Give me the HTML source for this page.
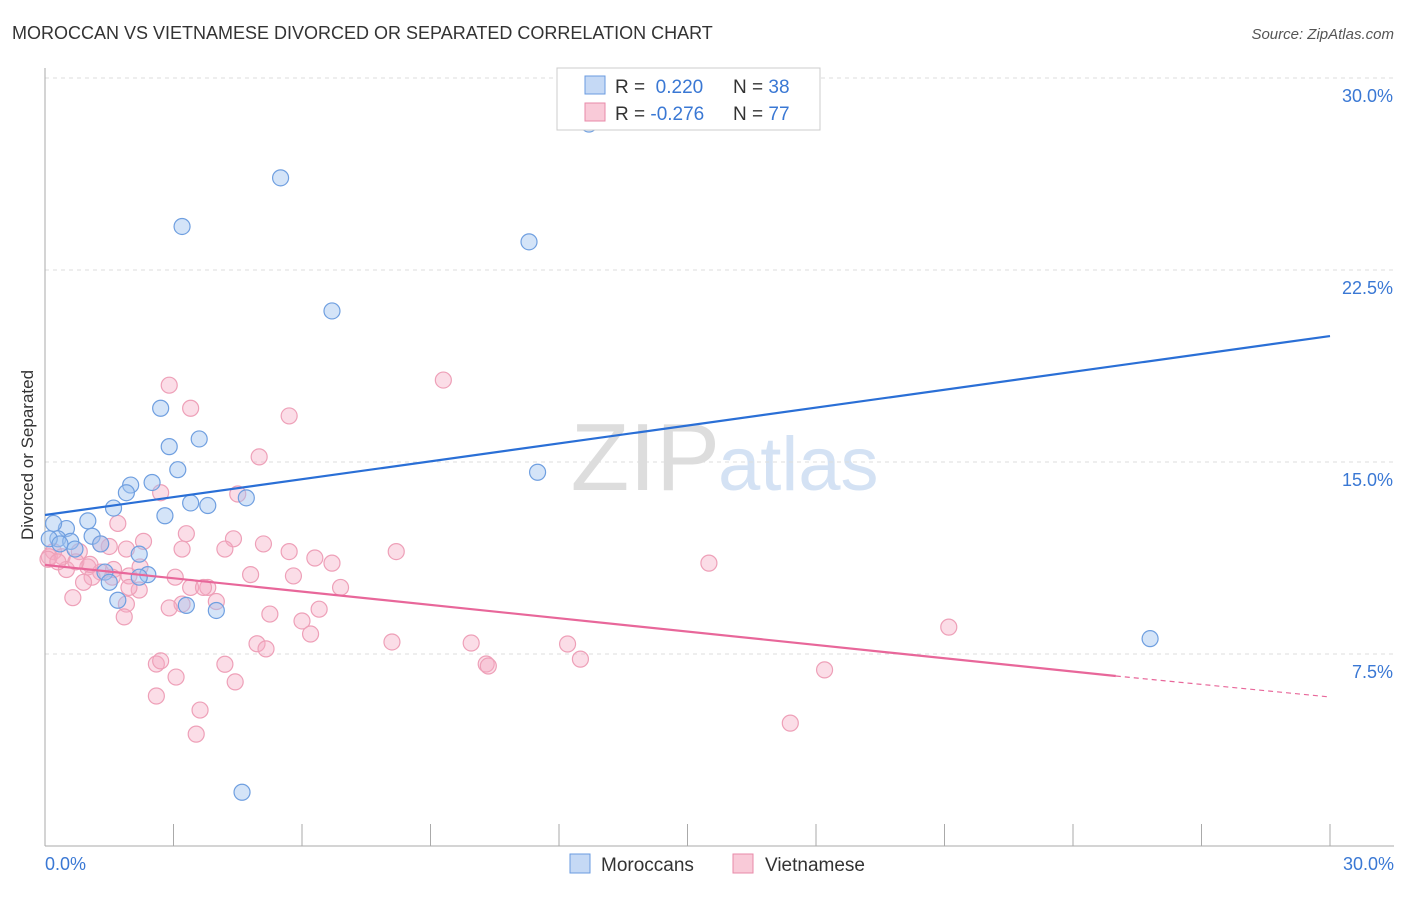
<!DOCTYPE html>
<html><head><meta charset="utf-8">
<style>
body{margin:0;background:#fff;font-family:"Liberation Sans",sans-serif;}
svg text{font-family:"Liberation Sans",sans-serif;}
</style></head>
<body>
<svg id="chart" width="1406" height="892">
<text x="12" y="39" font-size="18" fill="#333">MOROCCAN VS VIETNAMESE DIVORCED OR SEPARATED CORRELATION CHART</text>
<text x="1394" y="39" font-size="15" fill="#555" text-anchor="end" font-style="italic">Source: ZipAtlas.com</text>
<text x="720" y="490" font-size="96" fill="#ddd" text-anchor="end" font-family="Liberation Serif">ZIP</text>
<text x="718" y="490" font-size="76" fill="#d4e2f4">atlas</text>
<g id="grid"></g>
<g id="axes"></g>
<g id="pts"></g>
<g id="lines"></g>
<text x="33" y="455" font-size="17" fill="#333" transform="rotate(-90 33 455)" text-anchor="middle">Divorced or Separated</text>
<g>
<rect x="557" y="68" width="263" height="62" fill="#fff" stroke="#ccc"/>
<rect x="585" y="76" width="20" height="18" fill="#c5d9f5" stroke="#6a9be0"/>
<rect x="585" y="103" width="20" height="18" fill="#f9cad8" stroke="#e88aa8"/>
<text x="615" y="93" font-size="19" fill="#333">R = <tspan fill="#3a78d4">&#160;0.220</tspan><tspan x="733">N = </tspan><tspan fill="#3a78d4">38</tspan></text>
<text x="615" y="120" font-size="19" fill="#333">R = <tspan fill="#3a78d4">-0.276</tspan><tspan x="733">N = </tspan><tspan fill="#3a78d4">77</tspan></text>
</g>
<g>
<rect x="570" y="854" width="20" height="19" fill="#c5d9f5" stroke="#6a9be0"/>
<text x="601" y="871" font-size="19" fill="#333">Moroccans</text>
<rect x="733" y="854" width="20" height="19" fill="#f9cad8" stroke="#e88aa8"/>
<text x="765" y="871" font-size="19" fill="#333">Vietnamese</text>
</g>
</svg>
<script>
const yTicks=[7.5,15,22.5,30];
const yTickLabels=["7.5%","15.0%","22.5%","30.0%"];
const moroccanX=[12.7,5.5,3.2,11.3,6.7,2.7,2.9,3.6,3.1,2.5,2.0,1.9,4.7,3.4,3.8,1.6,2.8,1.0,0.5,0.2,0.3,0.6,1.1,1.3,0.7,2.2,2.4,1.4,2.2,1.5,1.7,3.3,4.0,11.5,25.8,4.6,0.1,0.35];
const moroccanY=[28.2,26.1,24.2,23.6,20.9,17.1,15.6,15.9,14.7,14.2,14.1,13.8,13.6,13.4,13.3,13.2,12.9,12.7,12.4,12.6,12.0,11.9,12.1,11.8,11.6,11.4,10.6,10.7,10.5,10.3,9.6,9.4,9.2,14.6,8.1,2.1,12.0,11.8];
const vietX=[2.9,9.3,3.4,5.7,5.0,2.7,4.5,1.7,3.3,4.4,5.1,3.2,2.3,1.5,1.3,1.9,8.2,0.2,0.8,0.1,0.4,5.7,6.3,6.7,15.5,0.5,1.0,1.3,1.6,1.96,4.8,5.8,1.1,0.9,2.2,6.9,3.4,3.8,3.7,1.96,0.65,1.9,4.0,3.2,2.9,6.4,5.25,1.85,6.0,6.2,21.1,4.95,8.1,9.95,12.2,5.16,2.6,2.7,4.2,12.5,10.3,10.35,18.2,3.06,4.44,2.6,3.62,3.53,17.4,0.07,0.3,0.72,1.05,1.57,2.22,3.04,4.2];
const vietY=[18.0,18.2,17.1,16.8,15.2,13.8,13.75,12.6,12.2,12.0,11.8,11.6,11.9,11.7,11.8,11.6,11.5,11.5,11.5,11.3,11.3,11.5,11.25,11.05,11.05,10.8,10.9,10.7,10.8,10.55,10.6,10.55,10.5,10.3,10.0,10.1,10.1,10.1,10.1,10.1,9.7,9.45,9.55,9.45,9.3,9.25,9.06,8.95,8.79,8.28,8.55,7.9,7.97,7.93,7.89,7.7,7.11,7.23,7.1,7.3,7.11,7.03,6.88,6.6,6.41,5.86,5.31,4.37,4.8,11.2,11.1,11.1,11.0,10.5,10.9,10.5,11.6];
const blueTrend=[12.93,19.92];
const pinkTrend=[10.98,6.64,5.82];
const pinkSolidEndX=25;
const NS="http://www.w3.org/2000/svg";
const X0=45,X1=1330,Y0=846,PXY=25.6;
function xs(v){return X0+(X1-X0)*v/30;}
function ys(v){return Y0-v*PXY;}
function mk(tag,attrs,parent){const e=document.createElementNS(NS,tag);for(const k in attrs)e.setAttribute(k,attrs[k]);parent.appendChild(e);return e;}
const grid=document.getElementById('grid'),axes=document.getElementById('axes'),pts=document.getElementById('pts'),lines=document.getElementById('lines');
yTicks.forEach((t,i)=>{
 const l=mk('line',{x1:X0,x2:1394,y1:ys(t),y2:ys(t),stroke:'#ddd','stroke-dasharray':'4,4'},grid);
 
 
 const tx=mk('text',{x:1393,y:ys(t)+24,'font-size':18,fill:'#3a78d4','text-anchor':'end'},grid);
 tx.textContent=yTickLabels[i];
 
 
});
const ax=mk('line',{x1:X0,x2:1394,y1:Y0,y2:Y0,stroke:'#aaa'},axes);


const ay=mk('line',{x1:X0,x2:X0,y1:68,y2:Y0,stroke:'#aaa'},axes);


for(let i=0;i<=10;i++){
 const t=mk('line',{x1:xs(i*3),x2:xs(i*3),y1:Y0,y2:Y0-22,stroke:'#aaa'},axes);
 
 
}
const xl0=mk('text',{x:45,y:870,'font-size':18,fill:'#3a78d4'},axes);xl0.textContent='0.0%';


const xl1=mk('text',{x:1394,y:870,'font-size':18,fill:'#3a78d4','text-anchor':'end'},axes);xl1.textContent='30.0%';


vietX.forEach((v,i)=>{
 const c=mk('circle',{cx:xs(v),cy:ys(vietY[i]),r:8,fill:'rgba(246,170,195,0.4)',stroke:'#eea0b8','stroke-width':1.2},pts);
 
 
});
moroccanX.forEach((v,i)=>{
 const c=mk('circle',{cx:xs(v),cy:ys(moroccanY[i]),r:8,fill:'rgba(160,195,240,0.45)',stroke:'#6f9fe0','stroke-width':1.2},pts);
 
 
});
const bl=mk('line',{x1:xs(0),y1:ys(blueTrend[0]),x2:xs(30),y2:ys(blueTrend[1]),stroke:'#2a6fd6','stroke-width':2.2},lines);


const pl=mk('line',{x1:xs(0),y1:ys(pinkTrend[0]),x2:xs(pinkSolidEndX),y2:ys(pinkTrend[1]),stroke:'#e8679a','stroke-width':2.2},lines);


const pd=mk('line',{x1:xs(pinkSolidEndX),y1:ys(pinkTrend[1]),x2:xs(30),y2:ys(pinkTrend[2]),stroke:'#e8679a','stroke-width':1.2,'stroke-dasharray':'5,4'},lines);


</script>
</body></html>
